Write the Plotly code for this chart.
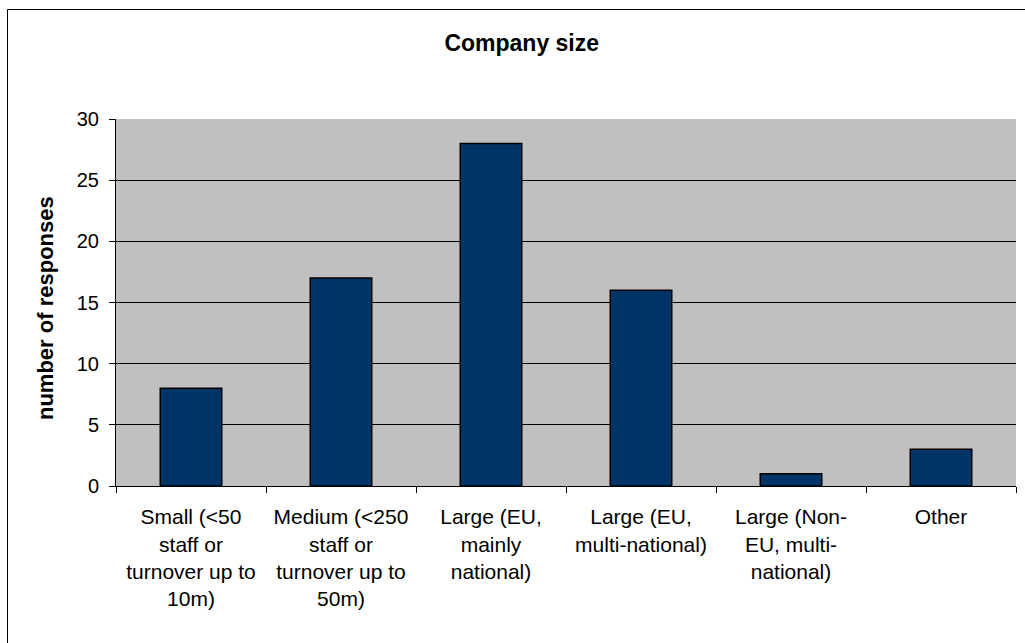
import plotly.graph_objects as go

categories = [
    "Small (&lt;50<br>staff or<br>turnover up to<br>10m)",
    "Medium (&lt;250<br>staff or<br>turnover up to<br>50m)",
    "Large (EU,<br>mainly<br>national)",
    "Large (EU,<br>multi-national)",
    "Large (Non-<br>EU, multi-<br>national)",
    "Other",
]
responses = [8, 17, 28, 16, 1, 3]
y_ticks = [0, 5, 10, 15, 20, 25, 30]

FONT = "Liberation Sans, Arial, sans-serif"

fig = go.Figure(
    go.Bar(
        x=categories,
        y=responses,
        marker=dict(color="#003366", line=dict(color="#000000", width=1.5)),
        hoverinfo="x+y",
    )
)

fig.update_layout(
    width=1025,
    height=643,
    margin=dict(l=116, r=9, t=119, b=157),
    paper_bgcolor="#ffffff",
    plot_bgcolor="#c0c0c0",
    bargap=0.59,
    showlegend=False,
    font=dict(family=FONT, size=21, color="#000000"),
    title=dict(
        text="<b>Company size</b>",
        x=0.509,
        xanchor="center",
        y=1 - 43 / 643,
        yanchor="middle",
        font=dict(family=FONT, size=23, color="#000000"),
    ),
    xaxis=dict(
        type="category",
        tickson="boundaries",
        ticks="outside",
        ticklen=6,
        tickcolor="#000000",
        showline=True,
        linecolor="#000000",
        linewidth=1,
        showgrid=False,
        tickangle=0,
        ticklabelstandoff=12,
        tickfont=dict(family=FONT, size=21, color="#000000"),
    ),
    yaxis=dict(
        range=[0, 30],
        tickvals=y_ticks,
        ticks="outside",
        ticklen=6,
        tickcolor="#000000",
        showline=True,
        linecolor="#000000",
        linewidth=1,
        showgrid=True,
        gridcolor="#000000",
        gridwidth=1,
        zeroline=False,
        ticklabelstandoff=6,
        tickfont=dict(family=FONT, size=20, color="#000000"),
    ),
    annotations=[
        dict(
            text="<b>number of responses</b>",
            xref="paper",
            yref="paper",
            x=(45 - 116) / 900,
            y=0.485,
            xanchor="center",
            yanchor="middle",
            textangle=-90,
            showarrow=False,
            font=dict(family=FONT, size=22, color="#000000"),
        )
    ],
    shapes=[
        dict(
            type="rect",
            xref="paper",
            yref="paper",
            x0=(7.5 - 116) / 900,
            x1=1.05,
            y0=-0.6,
            y1=1 + (119 - 9.5) / 367,
            line=dict(color="#000000", width=1),
            fillcolor="rgba(0,0,0,0)",
            layer="below",
        )
    ],
)

fig.write_html("out.html")
